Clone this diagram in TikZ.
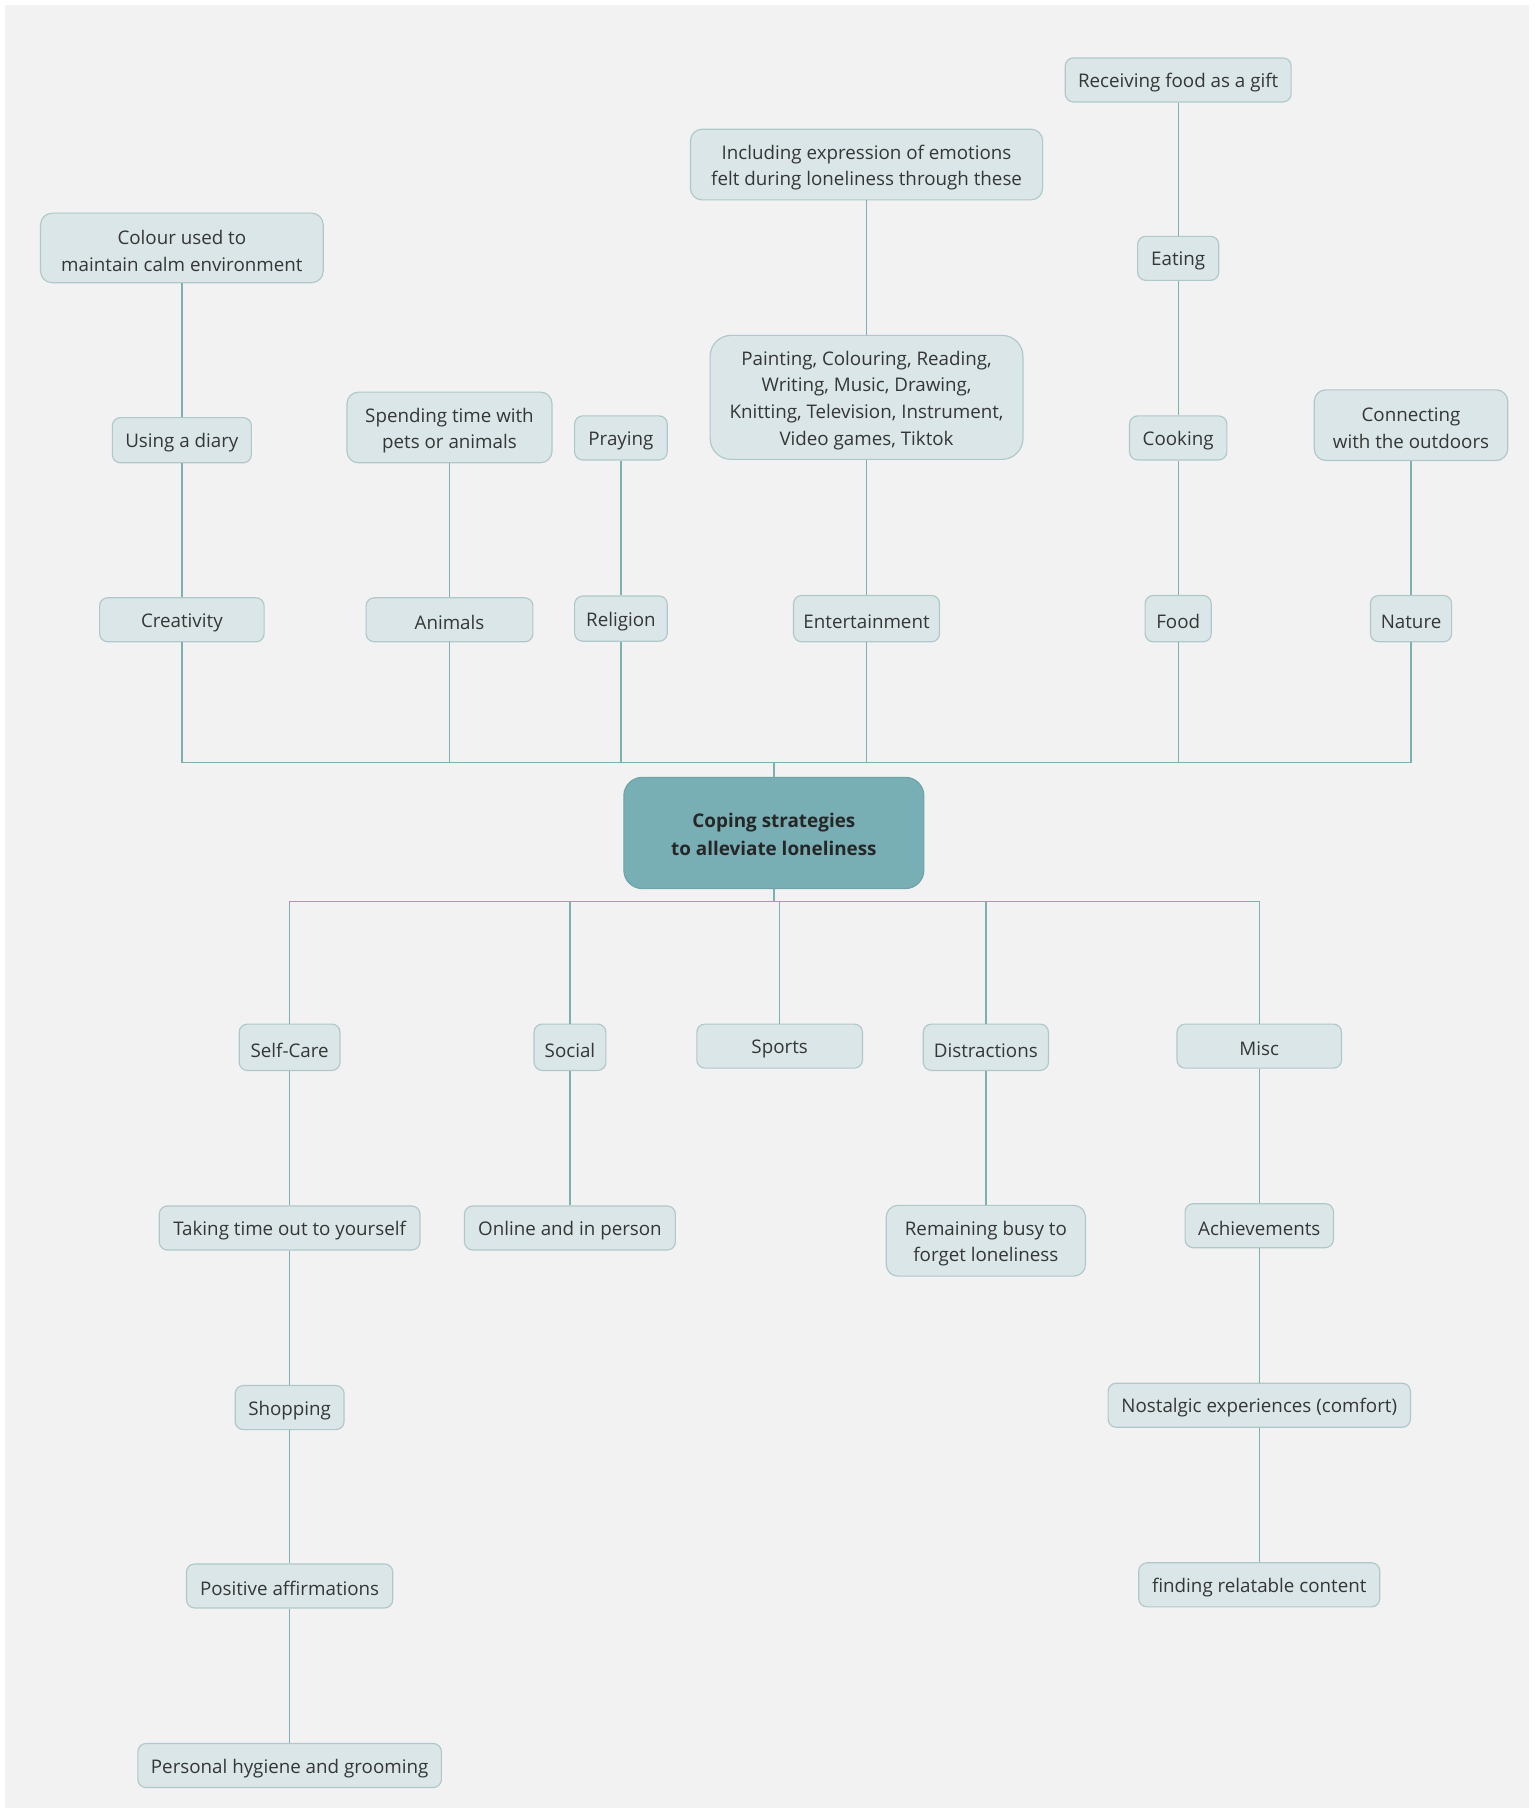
\documentclass[tikz,border=0pt]{standalone}
\usepackage{fontspec}
\setmainfont{Open Sans}
\definecolor{bgc}{HTML}{F2F2F2}
\definecolor{boxfill}{HTML}{DAE6E7}
\definecolor{boxdraw}{HTML}{AFC9CB}
\definecolor{linec}{HTML}{7FAFB3}
\definecolor{mainfill}{HTML}{78AFB4}
\definecolor{maindraw}{HTML}{6DA4A9}
\definecolor{txt}{HTML}{363636}
\newcommand\topstrut{\rule{0pt}{17.5pt}}
\tikzset{
  leaf/.style={draw=boxdraw, fill=boxfill, line width=1pt, rounded corners=7pt,
    align=center, text=txt, font=\fontsize{16.2}{23}\selectfont, inner sep=0pt,
    execute at begin node={\rule{0pt}{17pt}}},
  multiline/.style={rounded corners=10pt},
  mainnode/.style={draw=maindraw, fill=mainfill, line width=1pt, rounded corners=16pt,
    align=center, text=black!85, font=\fontsize{16.3}{24}\selectfont\bfseries, inner sep=0pt},
  conn/.style={draw=linec, line width=1.1pt}
}
\begin{document}
\begin{tikzpicture}[x=1pt,y=1pt]
\useasboundingbox (0,0) rectangle (1325,-1569.3);
\fill[white] (0,0) rectangle (1325,-1569.3);
\fill[bgc] (4,-4) rectangle (1320,-1561);

% top branch
\node[leaf, minimum width=195pt, minimum height=38pt] (gift) at (1017,-69) {Receiving food as a gift};
\node[leaf, multiline, minimum width=304pt, minimum height=61pt] (express) at (748,-142) {\topstrut Including expression of emotions\\ felt during loneliness through these};
\node[leaf, multiline, minimum width=244pt, minimum height=60pt] (colour) at (157,-214) {\topstrut Colour used to\\ maintain calm environment};
\node[leaf, minimum width=70pt, minimum height=38pt] (eating) at (1017,-223) {Eating};
\node[leaf, multiline, minimum width=270pt, minimum height=107pt, rounded corners=18pt] (painting) at (748,-343) {\topstrut Painting, Colouring, Reading,\\ Writing, Music, Drawing,\\ Knitting, Television, Instrument,\\ Video games, Tiktok};
\node[leaf, minimum width=120pt, minimum height=39pt] (diary) at (157,-380) {Using a diary};
\node[leaf, multiline, minimum width=177pt, minimum height=61pt] (pets) at (388,-369) {\topstrut Spending time with\\ pets or animals};
\node[leaf, minimum width=80pt, minimum height=38pt] (praying) at (536,-378) {Praying};
\node[leaf, minimum width=84pt, minimum height=38pt] (cooking) at (1017,-378) {Cooking};
\node[leaf, multiline, minimum width=167pt, minimum height=61pt] (outdoors) at (1218,-367) {\topstrut Connecting\\ with the outdoors};

\node[leaf, minimum width=142pt, minimum height=38pt] (creativity) at (157,-535) {Creativity};
\node[leaf, minimum width=144pt, minimum height=38pt] (animals) at (388,-535) {Animals};
\node[leaf, minimum width=80pt, minimum height=39pt] (religion) at (536,-534) {Religion};
\node[leaf, minimum width=126pt, minimum height=40pt] (entertain) at (748,-534) {Entertainment};
\node[leaf, minimum width=57pt, minimum height=40pt] (food) at (1017,-534) {Food};
\node[leaf, minimum width=70pt, minimum height=40pt] (nature) at (1218,-534) {Nature};

% centre
\node[mainnode, minimum width=259pt, minimum height=96pt] (centre) at (668,-719) {\rule{0pt}{15.5pt}Coping strategies\\ to alleviate loneliness};

% bottom branch
\node[leaf, minimum width=87pt, minimum height=40pt] (selfcare) at (250,-904) {Self-Care};
\node[leaf, minimum width=62pt, minimum height=40pt] (social) at (492,-904) {Social};
\node[leaf, minimum width=143pt, minimum height=38pt] (sports) at (673,-903) {Sports};
\node[leaf, minimum width=108pt, minimum height=40pt] (distract) at (851,-904) {Distractions};
\node[leaf, minimum width=142pt, minimum height=38pt] (misc) at (1087,-903) {Misc};

\node[leaf, minimum width=225pt, minimum height=38pt] (timeout) at (250,-1060) {Taking time out to yourself};
\node[leaf, minimum width=182pt, minimum height=38pt] (online) at (492,-1060) {Online and in person};
\node[leaf, multiline, minimum width=172pt, minimum height=61pt] (busy) at (851,-1071) {\topstrut Remaining busy to\\ forget loneliness};
\node[leaf, minimum width=128pt, minimum height=38pt] (achieve) at (1087,-1058) {Achievements};

\node[leaf, minimum width=94pt, minimum height=38pt] (shopping) at (250,-1215) {Shopping};
\node[leaf, minimum width=261pt, minimum height=38pt] (nostalgic) at (1087,-1213) {Nostalgic experiences (comfort)};
\node[leaf, minimum width=178pt, minimum height=38pt] (affirm) at (250,-1369) {Positive affirmations};
\node[leaf, minimum width=208pt, minimum height=38pt] (relatable) at (1087,-1368) {finding relatable content};
\node[leaf, minimum width=262pt, minimum height=38pt] (hygiene) at (250,-1524) {Personal hygiene and grooming};

\coordinate (topbus) at (668,-658);
\coordinate (botbus) at (668,-778);

% connectors top
\draw[conn] (colour.south) -- (diary.north);
\draw[conn] (diary.south) -- (creativity.north);
\draw[conn] (pets.south) -- (animals.north);
\draw[conn] (praying.south) -- (religion.north);
\draw[conn] (express.south) -- (painting.north);
\draw[conn] (painting.south) -- (entertain.north);
\draw[conn] (gift.south) -- (eating.north);
\draw[conn] (eating.south) -- (cooking.north);
\draw[conn] (cooking.south) -- (food.north);
\draw[conn] (outdoors.south) -- (nature.north);
\foreach \n in {creativity,animals,religion,entertain,food,nature}
  \draw[conn] (\n.south) |- (topbus);
\draw[conn] (topbus) -- (centre.north);

% connectors bottom
\draw[conn] (centre.south) -- (botbus);
\foreach \n in {selfcare,social,sports,distract,misc}
  \draw[conn] (botbus) -| (\n.north);
\draw[conn] (selfcare.south) -- (timeout.north);
\draw[conn] (timeout.south) -- (shopping.north);
\draw[conn] (shopping.south) -- (affirm.north);
\draw[conn] (affirm.south) -- (hygiene.north);
\draw[conn] (social.south) -- (online.north);
\draw[conn] (distract.south) -- (busy.north);
\draw[conn] (misc.south) -- (achieve.north);
\draw[conn] (achieve.south) -- (nostalgic.north);
\draw[conn] (nostalgic.south) -- (relatable.north);
\end{tikzpicture}
\end{document}
